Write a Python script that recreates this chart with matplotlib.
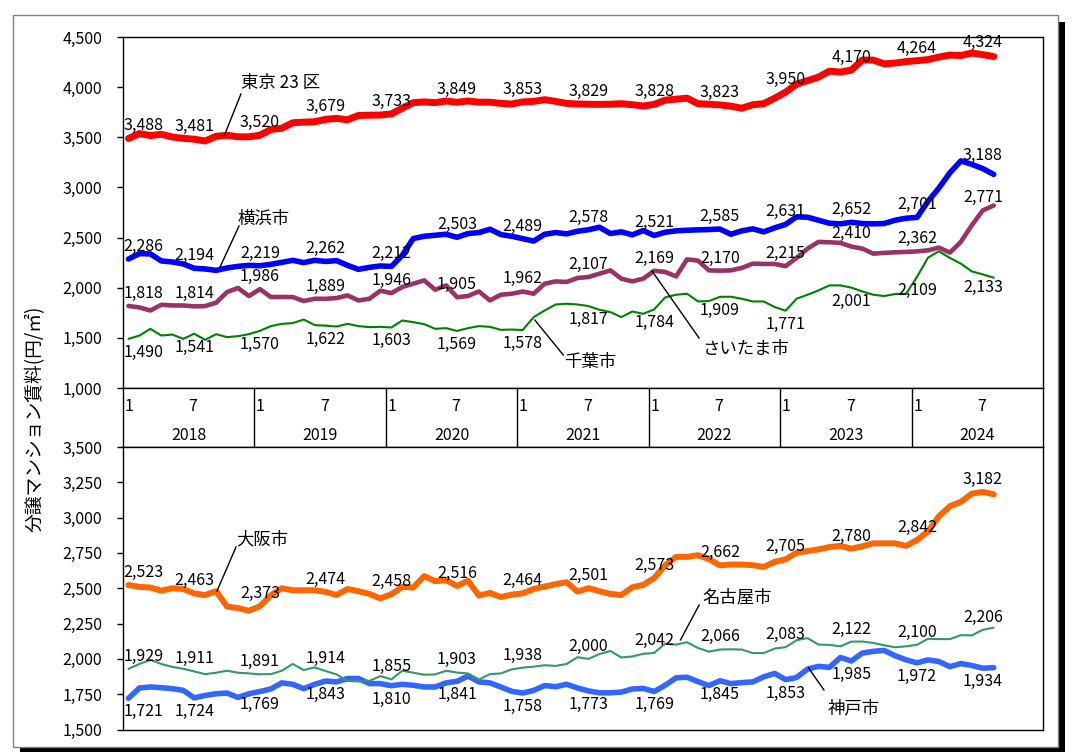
import matplotlib
matplotlib.use("Agg")
import matplotlib.pyplot as plt
from matplotlib.patches import Rectangle
import numpy as np

plt.rcParams['font.family'] = ['Noto Sans CJK JP', 'DejaVu Sans']

# ---------------- data (Jan 2018 .. Aug 2024, monthly) ----------------
years = ['2018', '2019', '2020', '2021', '2022', '2023', '2024']
month_marks = ['1', '7']

tokyo = [3488, 3537, 3517, 3530, 3503, 3490, 3481, 3463, 3510, 3520, 3505, 3505,
         3520, 3578, 3590, 3645, 3651, 3655, 3679, 3688, 3675, 3718, 3720, 3722,
         3733, 3790, 3845, 3853, 3845, 3862, 3849, 3862, 3850, 3850, 3838, 3832,
         3853, 3858, 3875, 3858, 3838, 3832, 3829, 3828, 3830, 3835, 3825, 3812,
         3828, 3870, 3880, 3890, 3835, 3830, 3823, 3810, 3790, 3825, 3835, 3890,
         3950, 4030, 4065, 4100, 4160, 4150, 4170, 4270, 4270, 4232, 4240, 4255,
         4264, 4275, 4300, 4320, 4315, 4340, 4324, 4305]
yokohama = [2286, 2340, 2337, 2267, 2257, 2237, 2194, 2187, 2173, 2197, 2213, 2223,
            2219, 2233, 2253, 2273, 2250, 2273, 2262, 2270, 2223, 2183, 2203, 2217,
            2212, 2323, 2490, 2513, 2523, 2533, 2503, 2540, 2550, 2583, 2530, 2513,
            2489, 2465, 2533, 2550, 2537, 2563, 2578, 2603, 2540, 2557, 2527, 2570,
            2521, 2553, 2567, 2573, 2577, 2580, 2585, 2533, 2567, 2587, 2557, 2597,
            2631, 2707, 2703, 2673, 2643, 2637, 2652, 2640, 2637, 2640, 2673, 2693,
            2701, 2861, 2995, 3146, 3265, 3230, 3188, 3130]
saitama = [1818, 1803, 1773, 1830, 1823, 1823, 1814, 1817, 1850, 1957, 1997, 1917,
           1986, 1907, 1907, 1907, 1867, 1890, 1889, 1897, 1923, 1873, 1890, 1970,
           1946, 2007, 2040, 2073, 1980, 2023, 1905, 1917, 1963, 1873, 1930, 1940,
           1962, 1940, 2040, 2063, 2057, 2097, 2107, 2140, 2173, 2090, 2063, 2090,
           2169, 2157, 2113, 2283, 2270, 2173, 2170, 2173, 2197, 2240, 2237, 2237,
           2215, 2297, 2390, 2457, 2453, 2447, 2410, 2390, 2340, 2347, 2353, 2357,
           2362, 2373, 2400, 2350, 2457, 2623, 2771, 2820]
chiba = [1490, 1523, 1590, 1523, 1533, 1490, 1541, 1480, 1537, 1507, 1517, 1537,
         1570, 1617, 1640, 1647, 1683, 1627, 1622, 1613, 1640, 1617, 1607, 1610,
         1603, 1673, 1657, 1637, 1590, 1597, 1569, 1597, 1617, 1610, 1580, 1583,
         1578, 1707, 1773, 1833, 1840, 1833, 1817, 1780, 1757, 1707, 1763, 1740,
         1784, 1903, 1930, 1940, 1863, 1867, 1909, 1910, 1890, 1863, 1863, 1807,
         1771, 1890, 1930, 1973, 2023, 2023, 2001, 1963, 1930, 1917, 1937, 1940,
         2109, 2300, 2363, 2297, 2240, 2163, 2133, 2100]

osaka = [2523, 2510, 2505, 2483, 2500, 2495, 2463, 2452, 2480, 2370, 2360, 2341,
         2373, 2450, 2500, 2486, 2486, 2486, 2474, 2452, 2495, 2479, 2460, 2428,
         2458, 2510, 2505, 2586, 2550, 2557, 2516, 2553, 2448, 2467, 2438, 2455,
         2464, 2495, 2512, 2529, 2543, 2476, 2501, 2479, 2460, 2452, 2507, 2524,
         2573, 2663, 2722, 2722, 2734, 2706, 2662, 2668, 2668, 2663, 2651, 2687,
         2705, 2751, 2763, 2775, 2792, 2800, 2780, 2797, 2818, 2818, 2818, 2800,
         2842, 2902, 3010, 3081, 3112, 3170, 3182, 3165]
nagoya = [1929, 1964, 1993, 1964, 1943, 1930, 1911, 1892, 1902, 1916, 1902, 1897,
          1891, 1892, 1916, 1964, 1921, 1940, 1914, 1890, 1844, 1840, 1844, 1878,
          1855, 1916, 1902, 1888, 1890, 1916, 1903, 1897, 1854, 1892, 1897, 1926,
          1938, 1945, 1955, 1950, 1964, 2012, 2000, 2034, 2056, 2010, 2017, 2036,
          2042, 2108, 2101, 2118, 2077, 2051, 2066, 2068, 2066, 2041, 2041, 2073,
          2083, 2132, 2147, 2101, 2099, 2089, 2122, 2123, 2113, 2096, 2082, 2089,
          2100, 2142, 2140, 2140, 2168, 2166, 2206, 2221]
kobe = [1721, 1794, 1801, 1796, 1789, 1777, 1724, 1741, 1753, 1758, 1727, 1753,
        1769, 1787, 1830, 1820, 1789, 1820, 1843, 1837, 1861, 1861, 1825, 1825,
        1810, 1820, 1813, 1801, 1801, 1830, 1841, 1878, 1837, 1830, 1801, 1770,
        1758, 1777, 1811, 1803, 1820, 1794, 1773, 1760, 1760, 1765, 1787, 1791,
        1769, 1813, 1866, 1870, 1839, 1811, 1845, 1825, 1832, 1837, 1873, 1897,
        1853, 1868, 1928, 1947, 1940, 2010, 1985, 2041, 2053, 2060, 2022, 1993,
        1972, 1993, 1981, 1945, 1967, 1953, 1934, 1938]

label_idx = list(range(0, 80, 6))

W, H = 1074, 753
fig = plt.figure(figsize=(W / 100, H / 100), dpi=100)

# outer frame with shadow
fig.patches.append(Rectangle((20 / W, 1 - 752 / H), 1045 / W, 730 / H,
                             transform=fig.transFigure, facecolor='black',
                             edgecolor='none', zorder=-3))
fig.patches.append(Rectangle((13 / W, 1 - 747 / H), 1045 / W, 732 / H,
                             transform=fig.transFigure, facecolor='white',
                             edgecolor='#808080', linewidth=1.0, zorder=-2))

L, R = 123, 1043
def ax_rect(top, bottom):
    return [L / W, 1 - bottom / H, (R - L) / W, (bottom - top) / H]

ax1 = fig.add_axes(ax_rect(37, 388))
axb = fig.add_axes(ax_rect(388, 447))
ax2 = fig.add_axes(ax_rect(447, 729.5))

x = np.arange(len(tokyo))
FS = 11.5
for ax in (ax1, ax2):
    ax.set_xlim(-0.5, 83.5)
    ax.set_xticks([])
    for s in ax.spines.values():
        s.set_linewidth(1.0)
        s.set_color('black')
    ax.tick_params(axis='y', direction='out', length=4, width=1, pad=11,
                   labelsize=FS)

ax1.set_ylim(1000, 4500)
ax1.set_yticks(np.arange(1000, 4501, 500))
ax1.set_yticklabels([f'{v:,}' for v in np.arange(1000, 4501, 500)])
ax2.set_ylim(1500, 3500)
ax2.set_yticks(np.arange(1500, 3501, 250))
ax2.set_yticklabels([f'{v:,}' for v in np.arange(1500, 3501, 250)])


def draw(ax, vals, color, lw, above, z):
    ax.plot(x, vals, color=color, lw=lw, solid_capstyle='round',
            solid_joinstyle='round', zorder=z)
    for i in label_idx:
        ha = 'center'
        xx = i
        if i == 0:
            ha = 'left'
            xx = -0.45
        if above:
            ax.annotate(f'{vals[i]:,}', (xx, vals[i]), xytext=(0, 3),
                        textcoords='offset points', ha=ha, va='bottom',
                        fontsize=FS, zorder=10)
        else:
            ax.annotate(f'{vals[i]:,}', (xx, vals[i]), xytext=(0, -3.5),
                        textcoords='offset points', ha=ha, va='top',
                        fontsize=FS, zorder=10)


draw(ax1, tokyo, '#FF0000', 5.0, True, 4)
draw(ax1, yokohama, '#0000FF', 4.0, True, 4)
draw(ax1, saitama, '#993366', 3.3, True, 3)
draw(ax1, chiba, '#008000', 1.5, False, 5)

draw(ax2, osaka, '#FF6600', 4.3, True, 4)
draw(ax2, kobe, '#3366FF', 4.0, False, 3)
draw(ax2, nagoya, '#339966', 1.5, True, 5)

CFS = 12.5
def callout(ax, text, tx, ty, x0, y0, x1, y1):
    ax.text(tx, ty, text, ha='left', va='center', fontsize=CFS, zorder=12)
    ax.plot([x0, x1], [y0, y1], color='black', lw=1.0, zorder=12)

callout(ax1, '東京 23 区', 10.27, 4041, 10.27, 3932, 8.77, 3523)
callout(ax1, '横浜市', 10.0, 2685, 10.09, 2615, 8.36, 2206)
callout(ax1, 'さいたま市', 52.37, 1389, 47.8, 2167, 52.1, 1498)
callout(ax1, '千葉市', 39.77, 1259, 37.1, 1678, 39.7, 1329)

callout(ax2, '大阪市', 9.82, 2849, 9.82, 2792, 8.08, 2480)
callout(ax2, '名古屋市', 52.37, 2438, 52.1, 2381, 50.4, 2134)
callout(ax2, '神戸市', 63.87, 1652, 62.1, 1935, 63.5, 1780)

# category band (months / years)
axb.set_xlim(-0.5, 83.5)
axb.set_ylim(0, 1)
axb.set_xticks([])
axb.set_yticks([])
for s in axb.spines.values():
    s.set_linewidth(1.0)
for k, yr in enumerate(years):
    base = 12 * k
    if k > 0:
        axb.axvline(base - 0.5, color='black', lw=1.0)
    axb.text(base - 0.35, 0.69, month_marks[0], ha='left', va='center', fontsize=FS)
    axb.text(base + 5.9, 0.69, month_marks[1], ha='center', va='center', fontsize=FS)
    axb.text(base + 5.5, 0.19, yr, ha='center', va='center', fontsize=FS)

fig.text(35 / W, 1 - 419 / H, '分譲マンション賃料(円/㎡)', rotation=90,
         ha='center', va='center', fontsize=13.5)

fig.savefig('out.png', dpi=100)
